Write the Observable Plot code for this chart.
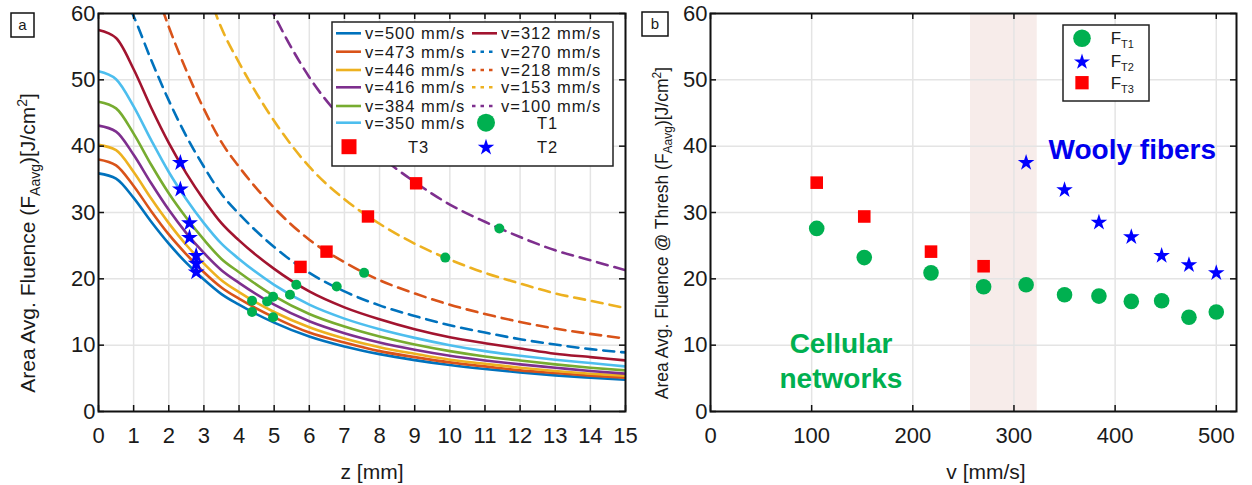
<!DOCTYPE html>
<html>
<head>
<meta charset="utf-8">
<script src="https://cdn.jsdelivr.net/npm/d3@7"></script>
<script src="https://cdn.jsdelivr.net/npm/@observablehq/plot@0.6"></script>
<style>
  html, body { margin: 0; padding: 0; background: #fff; }
  #wrap { position: relative; width: 1252px; height: 485px; overflow: hidden; background: #fff; }
  #panelB { position: absolute; left: 630px; top: 0; z-index: 1; }
  #panelA { position: absolute; left: 0; top: 0; z-index: 2; }
  #wrap svg { background: transparent !important; overflow: visible; }
</style>
</head>
<body>
<div id="wrap"><div id="panelB"></div><div id="panelA"></div></div>
<script>
// ---------------- DATA ----------------
// panel a: fluence curves vs z for each scan speed
const speeds = [500, 473, 446, 416, 384, 350, 312, 270, 218, 153, 100];
const speedLabels = ["v=500 mm/s", "v=473 mm/s", "v=446 mm/s", "v=416 mm/s", "v=384 mm/s", "v=350 mm/s",
                     "v=312 mm/s", "v=270 mm/s", "v=218 mm/s", "v=153 mm/s", "v=100 mm/s"];
const zSamples = [0, 0.5, 1, 1.5, 2, 2.5, 3, 3.5, 4, 5, 6, 7, 8, 9, 10, 11, 12, 13, 14, 15];
const F_v500 = [35.9, 35.1, 32.2, 28.6, 25.3, 22.4, 19.9, 17.7, 16.1, 13.4, 11.3, 9.8, 8.65, 7.75, 7.0, 6.4, 5.9, 5.45, 5.1, 4.78];
const F_v473 = [38.0, 37.1, 34.0, 30.2, 26.7, 23.7, 21.0, 18.7, 17.0, 14.2, 11.9, 10.4, 9.1, 8.2, 7.4, 6.8, 6.2, 5.8, 5.4, 5.1];
const F_v446 = [40.2, 39.4, 36.1, 32.1, 28.4, 25.1, 22.3, 19.8, 18.0, 15.0, 12.7, 11.0, 9.7, 8.7, 7.8, 7.2, 6.6, 6.1, 5.7, 5.4];
const F_v416 = [43.1, 42.2, 38.7, 34.4, 30.4, 26.9, 23.9, 21.3, 19.4, 16.1, 13.6, 11.8, 10.4, 9.3, 8.4, 7.7, 7.1, 6.6, 6.1, 5.7];
const F_v384 = [46.7, 45.7, 41.9, 37.2, 32.9, 29.2, 25.9, 23.0, 21.0, 17.4, 14.7, 12.8, 11.3, 10.1, 9.1, 8.3, 7.7, 7.1, 6.6, 6.2];
const F_v350 = [51.3, 50.1, 46.0, 40.9, 36.1, 32.0, 28.4, 25.3, 23.0, 19.1, 16.1, 14.0, 12.4, 11.1, 10.0, 9.1, 8.4, 7.8, 7.3, 6.8];
const F_v312 = [57.5, 56.3, 51.6, 45.8, 40.5, 35.9, 31.9, 28.4, 25.8, 21.5, 18.1, 15.7, 13.9, 12.4, 11.2, 10.3, 9.5, 8.7, 8.2, 7.7];
const F_v270 = [66.5, 65.0, 59.6, 53.0, 46.9, 41.5, 36.9, 32.8, 29.8, 24.8, 20.9, 18.1, 16.0, 14.4, 13.0, 11.9, 10.9, 10.1, 9.4, 8.9];
const F_v218 = [82.3, 80.5, 73.9, 65.6, 58.0, 51.4, 45.6, 40.6, 36.9, 30.7, 25.9, 22.5, 19.8, 17.8, 16.1, 14.7, 13.5, 12.5, 11.7, 11.0];
const F_v153 = [117.3, 114.7, 105.2, 93.5, 82.7, 73.2, 65.0, 57.8, 52.6, 43.8, 36.9, 32.0, 28.3, 25.3, 22.9, 20.9, 19.3, 17.8, 16.7, 15.6];
const F_v100 = [160.3, 156.7, 143.7, 127.7, 112.9, 100.0, 88.8, 79.0, 71.9, 59.8, 50.4, 43.7, 38.6, 34.6, 31.2, 28.6, 26.3, 24.3, 22.8, 21.3];

// panel a threshold markers (z, F)
const aT1z = [4.37, 4.37, 4.80, 4.97, 4.97, 5.45, 5.63, 6.78, 7.56, 9.87, 11.41];
const aT1F = [15.0, 16.7, 16.6, 17.3, 14.2, 17.6, 19.1, 18.85, 20.9, 23.2, 27.6];
const aT2z = [2.33, 2.33, 2.59, 2.59, 2.78, 2.78, 2.78];
const aT2F = [37.5, 33.5, 28.4, 26.2, 23.5, 22.3, 21.0];
const aT3z = [5.75, 6.49, 7.67, 9.04];
const aT3F = [21.8, 24.1, 29.4, 34.4];

// panel b threshold fluence vs speed
const bT1v = [105, 152, 218, 270, 312, 350, 384, 416, 446, 473, 500];
const bT1F = [27.6, 23.2, 20.9, 18.8, 19.1, 17.6, 17.4, 16.6, 16.7, 14.2, 15.0];
const bT2v = [312, 350, 384, 416, 446, 473, 500];
const bT2F = [37.5, 33.4, 28.5, 26.3, 23.5, 22.1, 20.9];
const bT3v = [105, 152, 218, 270];
const bT3F = [34.5, 29.4, 24.1, 21.9];
const bandV = [257, 323];
const annoText = ["Wooly fibers", "Cellular\nnetworks"];
const annoV = [417, 129];
const annoF = [39.7, 7.8];

// ticks
const zTicks = [0, 1, 2, 3, 4, 5, 6, 7, 8, 9, 10, 11, 12, 13, 14, 15];
const vTicks = [0, 100, 200, 300, 400, 500];
const fTicks = [0, 10, 20, 30, 40, 50, 60];

// ---------------- STYLE ----------------
const lineColors = ["#0072BD", "#D95319", "#EDB120", "#7E2F8E", "#77AC30", "#4DBEEE", "#A2142F",
                    "#0072BD", "#D95319", "#EDB120", "#7E2F8E"];
const GREEN = "#00B050", RED = "#FF0000", BLUE = "#0000FF";
const FONT = "Arial, 'Liberation Sans', Helvetica, sans-serif";
const H = 485, mTop = 13, mBottom = 74;
const innerH = H - mTop - mBottom;
const WA = 650, mLA = 98, mRA = 25, innerWA = WA - mLA - mRA;
const WB = 622, mLB = 80, mRB = 16, innerWB = WB - mLB - mRB;
const gridStyle = {stroke: "#e4e4e4", strokeOpacity: 1, strokeWidth: 1.5};
const tickStyle = {stroke: "#111", strokeWidth: 1.5};
const TICKFONT = 22;
const LEGFONT = 16.5, LEGSPACE = "1px";

// ---------------- PANEL A ----------------
const curveSeries = [F_v500, F_v473, F_v446, F_v416, F_v384, F_v350, F_v312, F_v270, F_v218, F_v153, F_v100];
const curveRows = speeds.flatMap((v, i) => zSamples.map((z, j) => ({v, z, F: curveSeries[i][j]})));
const toRows = (xs, ys) => xs.map((x, i) => ({x, y: ys[i]}));

const plotA = Plot.plot({
  width: WA, height: H,
  marginTop: mTop, marginBottom: mBottom, marginLeft: mLA, marginRight: mRA,
  style: {fontFamily: FONT, fontSize: TICKFONT + "px", background: "transparent", color: "#1a1a1a"},
  x: {domain: [0, 15]},
  y: {domain: [0, 60]},
  color: {domain: speeds, range: lineColors},
  marks: [
    Plot.gridX({ticks: zTicks, ...gridStyle}),
    Plot.gridY({ticks: fTicks, ...gridStyle}),
    Plot.line(curveRows.filter(d => d.v >= 312), {x: "z", y: "F", z: "v", stroke: "v", strokeWidth: 2.6, curve: "monotone-x", clip: true}),
    Plot.line(curveRows.filter(d => d.v < 312), {x: "z", y: "F", z: "v", stroke: "v", strokeWidth: 2.6, strokeDasharray: "11,7", curve: "monotone-x", clip: true}),
    Plot.dot(toRows(aT1z, aT1F), {x: "x", y: "y", r: 5, fill: GREEN, stroke: null}),
    Plot.dot(toRows(aT3z, aT3F), {x: "x", y: "y", r: 7, symbol: "square", fill: RED, stroke: null}),
    Plot.dot(toRows(aT2z, aT2F), {x: "x", y: "y", r: 5.3, symbol: "star", fill: BLUE, stroke: null}),
    Plot.ruleX(zTicks, {insetTop: innerH - 6, ...tickStyle}),
    Plot.ruleX(zTicks, {insetBottom: innerH - 6, ...tickStyle}),
    Plot.ruleY(fTicks, {insetRight: innerWA - 6, ...tickStyle}),
    Plot.ruleY(fTicks, {insetLeft: innerWA - 6, ...tickStyle}),
    Plot.frame({stroke: "#111", strokeWidth: 2}),
    Plot.axisX({ticks: zTicks, tickSize: 0, tickPadding: 16, label: null, fontSize: TICKFONT}),
    Plot.axisY({ticks: fTicks, tickSize: 0, tickPadding: 3, label: null, fontSize: TICKFONT})
  ]
});
document.getElementById("panelA").appendChild(plotA);

// decorations for panel a (labels, legend)
(function () {
  const svg = d3.select(plotA);
  const g = svg.append("g").attr("font-family", FONT).attr("fill", "#1a1a1a").attr("text-anchor", "start");
  // panel letter
  g.append("rect").attr("x", 11).attr("y", 13).attr("width", 23).attr("height", 24)
    .attr("fill", "#fff").attr("stroke", "#111").attr("stroke-width", 1.5);
  g.append("text").attr("x", 22.5).attr("y", 30).attr("text-anchor", "middle").attr("font-size", 15).text("a");
  // x label
  g.append("text").attr("x", 372).attr("y", 479).attr("text-anchor", "middle").attr("font-size", 21).text("z [mm]");
  // y label with subscript / superscript
  const yl = g.append("text").attr("transform", "translate(35,243) rotate(-90)")
    .attr("text-anchor", "middle").attr("font-size", 21);
  yl.append("tspan").text("Area Avg. Fluence (F");
  yl.append("tspan").attr("font-size", 14).attr("dy", 5).text("Aavg");
  yl.append("tspan").attr("dy", -5).text(")[J/cm");
  yl.append("tspan").attr("font-size", 14).attr("dy", -8).text("2");
  yl.append("tspan").attr("dy", 8).text("]");

  // legend
  const lg = g.append("g").attr("font-size", LEGFONT).attr("letter-spacing", LEGSPACE).attr("text-anchor", "start");
  lg.append("rect").attr("x", 332).attr("y", 22).attr("width", 281).attr("height", 144)
    .attr("fill", "#fff").attr("stroke", "#222").attr("stroke-width", 1.5);
  const rowsY = [33.3, 51.7, 70, 87.3, 106, 122.7];
  speeds.forEach((v, i) => {
    const left = i < 6;
    const y = left ? rowsY[i] : rowsY[i - 6];
    const x0 = left ? 336 : 472;
    lg.append("line").attr("x1", x0).attr("x2", x0 + 25).attr("y1", y).attr("y2", y)
      .attr("stroke", lineColors[i]).attr("stroke-width", 2.6)
      .attr("stroke-dasharray", v < 312 ? "3.5,5" : null);
    lg.append("text").attr("x", x0 + 29).attr("y", y + 6).text(speedLabels[i]);
  });
  lg.append("circle").attr("cx", 486).attr("cy", 122.7).attr("r", 9).attr("fill", GREEN);
  lg.append("text").attr("x", 537).attr("y", 128.7).text("T1");
  lg.append("path").attr("d", d3.symbol(d3.symbolSquare, 225)()).attr("transform", "translate(349,146.7)").attr("fill", RED);
  lg.append("text").attr("x", 408).attr("y", 152.7).text("T3");
  lg.append("path").attr("d", d3.symbol(d3.symbolStar, 85)()).attr("transform", "translate(486,147.5)").attr("fill", BLUE);
  lg.append("text").attr("x", 537).attr("y", 152.7).text("T2");
})();

// ---------------- PANEL B ----------------
const plotB = Plot.plot({
  width: WB, height: H,
  marginTop: mTop, marginBottom: mBottom, marginLeft: mLB, marginRight: mRB,
  style: {fontFamily: FONT, fontSize: TICKFONT + "px", background: "transparent", color: "#1a1a1a"},
  x: {domain: [0, 520]},
  y: {domain: [0, 60]},
  marks: [
    Plot.rect([{x1: bandV[0], x2: bandV[1]}], {x1: "x1", x2: "x2", fill: "#f7ecea"}),
    Plot.gridX({ticks: vTicks, ...gridStyle}),
    Plot.gridY({ticks: fTicks, ...gridStyle}),
    Plot.dot(toRows(bT1v, bT1F), {x: "x", y: "y", r: 7.8, fill: GREEN, stroke: null}),
    Plot.dot(toRows(bT3v, bT3F), {x: "x", y: "y", r: 7.1, symbol: "square", fill: RED, stroke: null}),
    Plot.dot(toRows(bT2v, bT2F), {x: "x", y: "y", r: 5.2, symbol: "star", fill: BLUE, stroke: null}),
    Plot.text(annoText.map((t, i) => ({t, x: annoV[i], y: annoF[i]})),
      {x: "x", y: "y", text: "t", fontSize: 28, fontWeight: "bold", lineHeight: 1.25,
       fill: (d) => d.t.startsWith("Wooly") ? "#0000EE" : "#00B050"}),
    Plot.ruleX(vTicks, {insetTop: innerH - 6, ...tickStyle}),
    Plot.ruleX(vTicks, {insetBottom: innerH - 6, ...tickStyle}),
    Plot.ruleY(fTicks, {insetRight: innerWB - 6, ...tickStyle}),
    Plot.ruleY(fTicks, {insetLeft: innerWB - 6, ...tickStyle}),
    Plot.frame({stroke: "#111", strokeWidth: 2}),
    Plot.axisX({ticks: vTicks, tickSize: 0, tickPadding: 16, label: null, fontSize: TICKFONT}),
    Plot.axisY({ticks: fTicks, tickSize: 0, tickPadding: 3, label: null, fontSize: TICKFONT})
  ]
});
document.getElementById("panelB").appendChild(plotB);

(function () {
  const svg = d3.select(plotB);
  const g = svg.append("g").attr("font-family", FONT).attr("fill", "#1a1a1a").attr("text-anchor", "start");
  g.append("rect").attr("x", 12).attr("y", 12).attr("width", 26).attr("height", 24)
    .attr("fill", "#fff").attr("stroke", "#111").attr("stroke-width", 1.5);
  g.append("text").attr("x", 25).attr("y", 29).attr("text-anchor", "middle").attr("font-size", 15).text("b");
  g.append("text").attr("x", 356).attr("y", 479).attr("text-anchor", "middle").attr("font-size", 21).text("v [mm/s]");
  const yl = g.append("text").attr("transform", "translate(38,233) rotate(-90)")
    .attr("text-anchor", "middle").attr("font-size", 17.5);
  yl.append("tspan").text("Area Avg. Fluence @ Thresh (F");
  yl.append("tspan").attr("font-size", 12).attr("dy", 4).text("Aavg");
  yl.append("tspan").attr("dy", -4).text(")[J/cm");
  yl.append("tspan").attr("font-size", 12).attr("dy", -7).text("2");
  yl.append("tspan").attr("dy", 7).text("]");

  // legend
  const lg = g.append("g");
  lg.append("rect").attr("x", 433).attr("y", 25).attr("width", 86).attr("height", 76)
    .attr("fill", "#fff").attr("stroke", "#222").attr("stroke-width", 1.5);
  lg.append("circle").attr("cx", 452).attr("cy", 38.3).attr("r", 8.8).attr("fill", GREEN);
  lg.append("path").attr("d", d3.symbol(d3.symbolStar, 80)()).attr("transform", "translate(452,62)").attr("fill", BLUE);
  lg.append("path").attr("d", d3.symbol(d3.symbolSquare, 177)()).attr("transform", "translate(452,82.7)").attr("fill", RED);
  const subs = ["T1", "T2", "T3"], ys = [38.3, 61, 82.7];
  subs.forEach((s, i) => {
    const t = lg.append("text").attr("x", 480.7).attr("y", ys[i] + 6).attr("font-size", 17).attr("text-anchor", "start");
    t.append("tspan").text("F");
    t.append("tspan").attr("font-size", 11).attr("dy", 4).text(s);
  });
})();
</script>
</body>
</html>
